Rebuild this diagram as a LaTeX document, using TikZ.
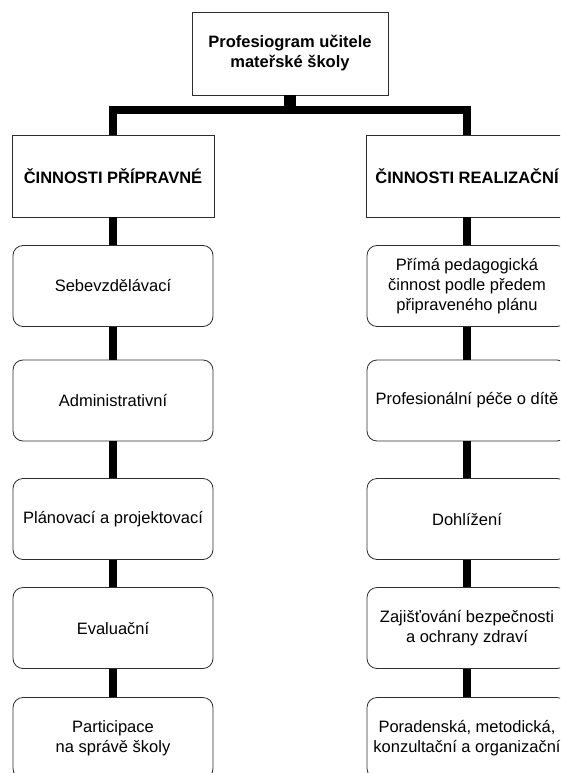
\documentclass[tikz,border=0pt]{standalone}
\usepackage{fontspec}
\setmainfont{Liberation Sans}
\usetikzlibrary{positioning}
\definecolor{frame}{RGB}{45,45,45}

\tikzset{
  basebox/.style={draw=frame,line width=0.8pt,align=center,
    font=\fontsize{16.5}{20}\selectfont},
  topbox/.style={basebox,minimum width=196pt,minimum height=83pt,
    font=\bfseries\fontsize{16.5}{20}\selectfont},
  headbox/.style={basebox,minimum width=202pt,minimum height=82pt,
    font=\bfseries\fontsize{16.5}{20}\selectfont},
  itembox/.style={basebox,rounded corners=10pt,minimum width=200pt,
    minimum height=81pt},
  link/.style={line width=8pt}
}

\begin{document}
\begin{tikzpicture}[x=1pt,y=-1pt]
  \useasboundingbox (0,0) rectangle (560,773);
  \clip (0,0) rectangle (560,773);

  \node[topbox] (top) at (290,53.5) {Profesiogram učitele\\mateřské školy};

  \node[headbox] (prip) at (113,176) {ČINNOSTI PŘÍPRAVNÉ};
  \node[headbox] (real) at (467,176) {ČINNOSTI REALIZAČNÍ};

  \node[itembox] (p1) at (113,286)   {Sebevzdělávací};
  \node[itembox] (p2) at (113,400.5) {Administrativní};
  \node[itembox] (p3) at (113,519)   {Plánovací a projektovací};
  \node[itembox] (p4) at (113,628)   {Evaluační};
  \node[itembox] (p5) at (113,738)   {Participace\\na správě školy};

  \node[itembox] (r1) at (467,286)   {Přímá pedagogická\\činnost podle předem\\připraveného plánu};
  \node[itembox] (r2) at (467,400.5) {Profesionální péče o dítě};
  \node[itembox] (r3) at (467,519)   {Dohlížení};
  \node[itembox] (r4) at (467,628)   {Zajišťování bezpečnosti\\a ochrany zdraví};
  \node[itembox] (r5) at (467,738)   {Poradenská, metodická,\\konzultační a organizační};

  \coordinate (fork) at (290,110);
  \draw[line width=12pt] (top) -- (fork);
  \draw[link] (prip.north) |- (fork) -| (real.north);
  \foreach \a/\b in {prip/p1,p1/p2,p2/p3,p3/p4,p4/p5,
                     real/r1,r1/r2,r2/r3,r3/r4,r4/r5}
    \draw[link] (\a.south) -- (\b.north);
\end{tikzpicture}
\end{document}
